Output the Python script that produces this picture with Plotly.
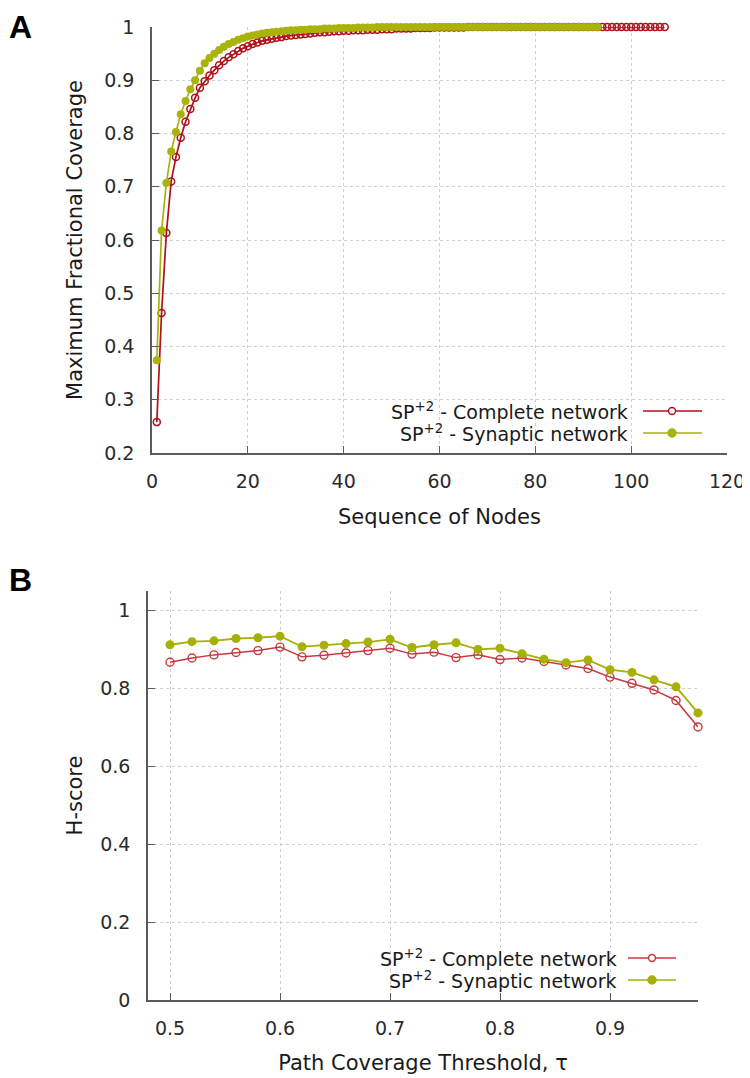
import plotly.graph_objects as go

# ---------------- Panel A data ----------------
nodes_complete = list(range(1, 108))
coverage_complete = [
    0.258, 0.463, 0.613, 0.710, 0.756, 0.792, 0.822, 0.846, 0.867, 0.886,
    0.898, 0.909, 0.919, 0.928, 0.936, 0.943, 0.949, 0.955, 0.960, 0.964,
    0.968, 0.971, 0.974, 0.976, 0.978, 0.980, 0.981, 0.983, 0.984, 0.985,
    0.986, 0.987, 0.988, 0.989, 0.990, 0.990, 0.991, 0.992, 0.992, 0.993,
    0.993, 0.994, 0.994, 0.994, 0.995, 0.995, 0.995, 0.996, 0.996, 0.996,
    0.997, 0.997, 0.997, 0.997, 0.998, 0.998, 0.998, 0.998, 0.999, 0.999,
    0.999, 0.999, 0.999, 0.999, 0.999, 1.000, 1.000, 1.000, 1.000, 1.000,
    1.000, 1.000, 1.000, 1.000, 1.000, 1.000, 1.000, 1.000, 1.000, 1.000,
    1.000, 1.000, 1.000, 1.000, 1.000, 1.000, 1.000, 1.000, 1.000, 1.000,
    1.000, 1.000, 1.000, 1.000, 1.000, 1.000, 1.000, 1.000, 1.000, 1.000,
    1.000, 1.000, 1.000, 1.000, 1.000, 1.000, 1.000,
]
nodes_synaptic = list(range(1, 94))
coverage_synaptic = [
    0.374, 0.618, 0.707, 0.766, 0.803, 0.836, 0.861, 0.883, 0.900, 0.918,
    0.932, 0.942, 0.950, 0.957, 0.963, 0.968, 0.972, 0.976, 0.979, 0.982,
    0.984, 0.986, 0.988, 0.989, 0.990, 0.991, 0.992, 0.993, 0.994, 0.994,
    0.995, 0.995, 0.996, 0.996, 0.996, 0.997, 0.997, 0.997, 0.998, 0.998,
    0.998, 0.998, 0.999, 0.999, 0.999, 0.999, 1.000, 1.000, 1.000, 1.000,
    1.000, 1.000, 1.000, 1.000, 1.000, 1.000, 1.000, 1.000, 1.000, 1.000,
    1.000, 1.000, 1.000, 1.000, 1.000, 1.000, 1.000, 1.000, 1.000, 1.000,
    1.000, 1.000, 1.000, 1.000, 1.000, 1.000, 1.000, 1.000, 1.000, 1.000,
    1.000, 1.000, 1.000, 1.000, 1.000, 1.000, 1.000, 1.000, 1.000, 1.000,
    1.000, 1.000, 1.000,
]
a_xticks = [0, 20, 40, 60, 80, 100, 120]
a_yticks = [0.2, 0.3, 0.4, 0.5, 0.6, 0.7, 0.8, 0.9, 1.0]
a_yticktext = ["0.2", "0.3", "0.4", "0.5", "0.6", "0.7", "0.8", "0.9", "1"]

# ---------------- Panel B data ----------------
tau = [0.50, 0.52, 0.54, 0.56, 0.58, 0.60, 0.62, 0.64, 0.66, 0.68,
       0.70, 0.72, 0.74, 0.76, 0.78, 0.80, 0.82, 0.84, 0.86, 0.88,
       0.90, 0.92, 0.94, 0.96, 0.98]
hscore_complete = [0.867, 0.878, 0.886, 0.892, 0.897, 0.906, 0.881, 0.885, 0.891, 0.897,
                   0.903, 0.888, 0.893, 0.879, 0.886, 0.874, 0.878, 0.869, 0.860, 0.851,
                   0.829, 0.813, 0.796, 0.769, 0.701]
hscore_synaptic = [0.912, 0.920, 0.922, 0.928, 0.930, 0.934, 0.907, 0.911, 0.915, 0.919,
                   0.926, 0.905, 0.912, 0.917, 0.900, 0.903, 0.889, 0.875, 0.866, 0.873,
                   0.848, 0.841, 0.822, 0.804, 0.737]
b_xticks = [0.5, 0.6, 0.7, 0.8, 0.9]
b_yticks = [0, 0.2, 0.4, 0.6, 0.8, 1.0]
b_yticktext = ["0", "0.2", "0.4", "0.6", "0.8", "1"]

legend_labels = ["SP<sup>+2</sup> - Complete network", "SP<sup>+2</sup> - Synaptic network"]

# ---------------- styling ----------------
PAGE_OFF = 8            # default page body margin of the html page
W, H = 750 - PAGE_OFF, 1078 - PAGE_OFF
FONT = "DejaVu Sans"
RED_A, GREEN_A = "#b0101a", "#a9b30a"
RED_B, GREEN_B = "#c63a3f", "#a6b005"
AXIS_COL = "#5a5a5a"
GRID_COL = "#cfcfcf"


def px(x):
    return (x - PAGE_OFF) / W


def py(y):
    return 1 - (y - PAGE_OFF) / H


fig = go.Figure()

fig.add_trace(go.Scatter(
    x=nodes_complete, y=coverage_complete, mode="lines+markers",
    line=dict(color=RED_A, width=1.7),
    marker=dict(symbol="circle-open", size=7, color=RED_A, line=dict(width=1.5)),
    xaxis="x", yaxis="y", cliponaxis=False, showlegend=False))
fig.add_trace(go.Scatter(
    x=nodes_synaptic, y=coverage_synaptic, mode="lines+markers",
    line=dict(color=GREEN_A, width=1.7),
    marker=dict(symbol="circle", size=8, color=GREEN_A),
    xaxis="x", yaxis="y", cliponaxis=False, showlegend=False))

fig.add_trace(go.Scatter(
    x=tau, y=hscore_complete, mode="lines+markers",
    line=dict(color=RED_B, width=1.5),
    marker=dict(symbol="circle-open", size=8, color=RED_B, line=dict(width=1.4)),
    xaxis="x2", yaxis="y2", cliponaxis=False, showlegend=False))
fig.add_trace(go.Scatter(
    x=tau, y=hscore_synaptic, mode="lines+markers",
    line=dict(color=GREEN_B, width=1.8),
    marker=dict(symbol="circle", size=9, color=GREEN_B),
    xaxis="x2", yaxis="y2", cliponaxis=False, showlegend=False))

tickfont = dict(family=FONT, size=19, color="#2a2a2a")
titlefont = dict(family=FONT, size=21, color="#1a1a1a")
common = dict(showline=True, linecolor=AXIS_COL, linewidth=1.5, mirror=False,
              ticks="inside", ticklen=7, tickwidth=1.2, tickcolor=AXIS_COL,
              showgrid=True, gridcolor=GRID_COL, griddash="dot", gridwidth=1,
              zeroline=False, tickfont=tickfont, automargin=False)

fig.update_layout(
    width=W, height=H,
    margin=dict(l=0, r=0, t=0, b=0, autoexpand=False),
    paper_bgcolor="white", plot_bgcolor="white",
    font=dict(family=FONT),
    xaxis=dict(domain=[px(152), px(727)], range=[0, 120], anchor="y",
               tickvals=a_xticks, ticklabelstandoff=10,
               title=dict(text="Sequence of Nodes", font=titlefont, standoff=19),
               **common),
    yaxis=dict(domain=[py(453), py(27)], range=[0.2, 1.0], anchor="x",
               tickvals=a_yticks, ticktext=a_yticktext, ticklabelstandoff=12,
               title=dict(text="Maximum Fractional Coverage", font=titlefont, standoff=16),
               **common),
    xaxis2=dict(domain=[px(148), px(698)], range=[0.48, 0.98], anchor="y2",
                tickvals=b_xticks, ticklabelstandoff=10,
                title=dict(text="Path Coverage Threshold, τ", font=titlefont, standoff=18),
                **common),
    yaxis2=dict(domain=[py(1000), py(591)], range=[0, 1.05], anchor="x2",
                tickvals=b_yticks, ticktext=b_yticktext, ticklabelstandoff=12,
                title=dict(text="H-score", font=titlefont, standoff=12),
                **common),
)

annotations = [
    dict(text="<b>A</b>", x=px(8), y=py(8), xref="paper", yref="paper",
         xanchor="left", yanchor="top", showarrow=False, borderpad=0,
         font=dict(family="Liberation Sans", size=32, color="black")),
    dict(text="<b>B</b>", x=px(8), y=py(561), xref="paper", yref="paper",
         xanchor="left", yanchor="top", showarrow=False, borderpad=0,
         font=dict(family="Liberation Sans", size=32, color="black")),
]
shapes = []

# manual gnuplot-style legends (text then sample)
legend_specs = [
    (630, 643, 702, 672, [411, 433], [RED_A, GREEN_A]),
    (619, 628, 676, 652, [958, 980], [RED_B, GREEN_B]),
]
for text_right, lx0, lx1, mx, rows, cols in legend_specs:
    for i, (yy, col) in enumerate(zip(rows, cols)):
        annotations.append(dict(
            text=legend_labels[i], x=px(text_right), y=py(yy), xref="paper", yref="paper",
            xanchor="right", yanchor="middle", showarrow=False,
            font=dict(family=FONT, size=19, color="#1a1a1a")))
        shapes.append(dict(type="line", xref="paper", yref="paper",
                           x0=px(lx0), x1=px(lx1), y0=py(yy), y1=py(yy),
                           line=dict(color=col, width=1.6)))
        r = 3.5 if i == 0 else 4
        shapes.append(dict(type="circle", xref="paper", yref="paper",
                           xsizemode="pixel", ysizemode="pixel",
                           xanchor=px(mx), yanchor=py(yy),
                           x0=-r, x1=r, y0=-r, y1=r,
                           line=dict(color=col, width=1.4),
                           fillcolor="white" if i == 0 else col))

fig.update_layout(annotations=annotations, shapes=shapes)

fig.write_html("out.html")
